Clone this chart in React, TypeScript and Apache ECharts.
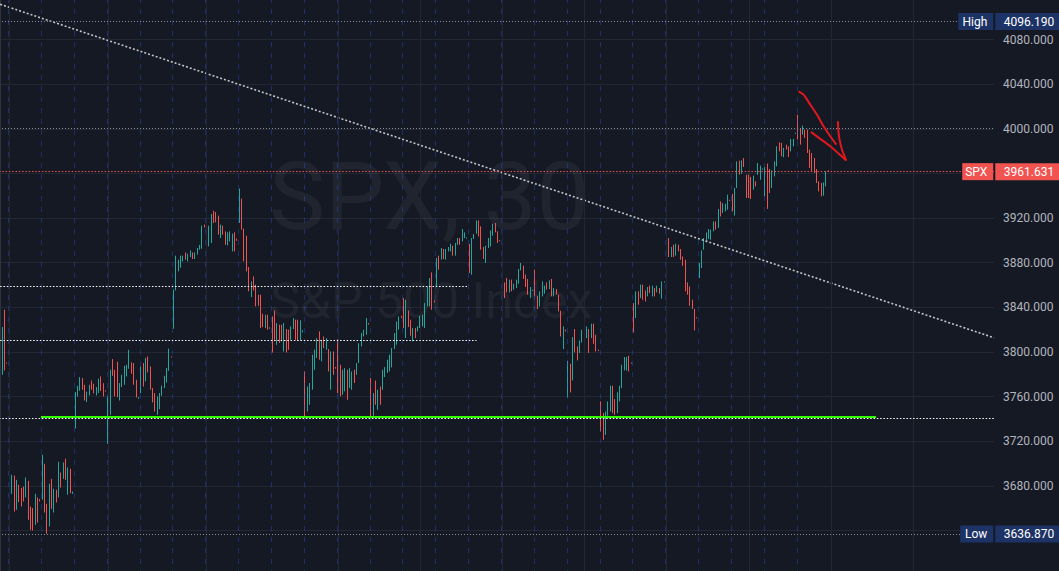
import React, { useEffect, useRef } from "react";
import * as echarts from "echarts";

// ---- candle data (30-min bars), opens and closes ----
const opens: number[] = [
  3722.7, 3779.5, 3837.8, 3790.5,
  3711.4, 3672.8, 3689.2, 3658.4, 3680.9, 3677.9, 3679.3, 3669.5, 3684.4, 3661.4, 3660.0, 3645.0, 3669.5, 3668.0,
  3667.4, 3699.7, 3663.8, 3643.5, 3686.2, 3656.0, 3676.4, 3669.5, 3691.9, 3686.2, 3704.2, 3671.9, 3695.2, 3672.8,
  3731.4, 3760.1, 3765.2, 3776.6, 3770.6, 3755.0, 3761.0, 3774.4, 3771.5, 3761.0, 3763.1, 3778.0, 3772.0, 3765.5,
  3717.6, 3743.6, 3793.6, 3784.0, 3791.2, 3756.5, 3768.5, 3770.6, 3778.0, 3784.9, 3790.6, 3790.0, 3775.0, 3758.0,
  3763.1, 3790.0, 3773.5, 3795.9, 3787.0, 3767.6, 3763.1, 3743.6, 3748.7, 3760.7, 3767.6, 3772.6, 3783.1, 3796.0,
  3820.8, 3855.1, 3872.2, 3875.5, 3881.2, 3889.2, 3881.2, 3885.1, 3889.2, 3883.3, 3887.2, 3891.6, 3892.5, 3914.1,
  3926.0, 3894.6, 3897.7, 3926.6, 3925.5, 3922.2, 3902.1, 3913.2, 3908.1, 3895.5, 3899.1, 3890.1, 3907.2, 3901.5,
  3915.6, 3937.4, 3910.5, 3904.2, 3876.1, 3849.2, 3867.7, 3860.3, 3851.3, 3851.3, 3834.2, 3821.4, 3833.3, 3822.0,
  3831.8, 3837.2, 3806.4, 3824.4, 3824.4, 3800.4, 3820.5, 3819.9, 3810.9, 3820.5, 3828.9, 3828.9, 3810.3, 3817.5,
  3782.5, 3746.6, 3752.6, 3766.1, 3784.0, 3794.5, 3818.4, 3791.5, 3813.9, 3802.0, 3802.6, 3766.1, 3800.4, 3786.4,
  3811.5, 3788.5, 3761.6, 3764.6, 3784.0, 3767.6, 3766.1, 3784.0, 3779.5, 3790.0, 3804.9, 3813.9, 3815.4, 3825.9,
  3776.6, 3742.8, 3774.4, 3748.1, 3769.0, 3766.1, 3777.5, 3781.1, 3782.5, 3786.1, 3802.6, 3806.4, 3819.9, 3832.4,
  3848.3, 3812.4, 3837.2, 3828.9, 3809.4, 3821.4, 3818.4, 3821.4, 3822.9, 3821.4, 3840.8, 3840.8, 3871.3, 3846.2,
  3858.7, 3886.3, 3882.7, 3892.3, 3882.7, 3890.1, 3890.1, 3895.2, 3886.3, 3896.1, 3902.1, 3899.1, 3902.1, 3901.6,
  3896.8, 3869.3, 3901.2, 3906.0, 3917.9, 3912.6, 3894.1, 3879.7, 3893.2, 3894.6, 3904.2, 3915.6, 3908.1, 3900.2,
  3879.7, 3862.3, 3866.3, 3853.4, 3864.8, 3855.8, 3857.3, 3861.1, 3873.1, 3877.3, 3869.3, 3865.4, 3848.3, 3854.6,
  3873.7, 3850.4, 3840.8, 3849.8, 3852.2, 3862.3, 3856.4, 3865.4, 3849.8, 3856.4, 3851.3, 3837.0, 3802.6, 3819.9,
  3759.2, 3789.4, 3774.4, 3820.5, 3804.9, 3799.0, 3808.5, 3829.5, 3812.4, 3820.5, 3812.4, 3825.3, 3815.4, 3801.9,
  3755.6, 3745.2, 3725.7, 3742.8, 3746.6, 3769.7, 3757.7, 3745.2, 3755.6, 3767.6, 3783.4, 3783.4, 3796.6, 3790.5,
  3843.8, 3830.4, 3854.3, 3848.3, 3860.3, 3855.1, 3849.8, 3859.4, 3849.8, 3857.3, 3853.4, 3857.3, 3847.7, 3862.2,
  3888.7, 3902.1, 3885.1, 3896.1, 3886.3, 3896.1, 3892.3, 3885.6, 3882.7, 3862.3, 3858.7, 3846.8, 3838.5, 3831.0,
  3866.3, 3875.2, 3891.6, 3898.2, 3901.2, 3900.6, 3908.1, 3917.0, 3911.1, 3935.0, 3924.6, 3926.0, 3927.5, 3936.4,
  3941.6, 3922.2, 3947.0, 3971.5, 3959.8, 3973.9, 3958.9, 3958.9, 3956.9, 3945.5, 3952.9, 3958.9, 3954.4, 3963.5,
  3939.5, 3968.8, 3964.0, 3947.0, 3957.4, 3966.4, 3987.9, 3987.4, 3974.5, 3985.8, 3984.3, 3979.8, 3984.3, 3995.5,
  4012.7, 4000.8, 3994.8, 3999.3, 3999.3, 3981.4, 3978.4, 3973.9, 3964.0, 3952.9, 3951.5, 3940.1, 3948.4, 3962.8,
];

const closes: number[] = [
  3825.3, 3822.3, 3783.4, 3789.5,
  3680.2, 3689.8, 3656.9, 3685.3, 3665.3, 3661.4, 3665.9, 3687.4, 3649.5, 3640.5, 3639.9, 3672.8, 3647.0, 3666.0,
  3707.8, 3656.0, 3636.9, 3681.8, 3659.3, 3677.3, 3665.0, 3701.5, 3678.4, 3700.9, 3685.3, 3696.4, 3673.4, 3674.9,
  3764.0, 3769.6, 3777.5, 3766.1, 3756.5, 3764.3, 3770.6, 3766.1, 3762.8, 3768.5, 3775.9, 3765.0, 3760.0, 3764.5,
  3760.1, 3784.0, 3778.6, 3760.1, 3759.5, 3772.1, 3779.5, 3787.6, 3788.5, 3801.9, 3780.4, 3770.6, 3759.2, 3759.5,
  3787.0, 3769.0, 3794.5, 3781.6, 3766.1, 3754.7, 3746.6, 3760.1, 3763.1, 3769.7, 3778.6, 3785.5, 3802.9, 3795.0,
  3855.8, 3886.3, 3882.7, 3886.3, 3886.3, 3882.7, 3888.1, 3891.0, 3883.3, 3889.2, 3893.2, 3895.9, 3913.2, 3911.6,
  3891.0, 3913.2, 3923.7, 3915.6, 3916.2, 3905.1, 3914.1, 3905.1, 3896.1, 3907.2, 3908.1, 3906.0, 3890.1, 3899.7,
  3946.4, 3909.6, 3881.2, 3872.2, 3854.3, 3863.2, 3855.1, 3840.8, 3841.4, 3821.4, 3822.3, 3833.3, 3819.9, 3820.8,
  3799.5, 3810.9, 3825.9, 3808.0, 3809.4, 3825.9, 3799.5, 3801.9, 3822.9, 3830.4, 3810.9, 3810.3, 3828.3, 3819.3,
  3740.7, 3769.0, 3772.1, 3797.5, 3802.0, 3812.4, 3793.0, 3810.9, 3803.5, 3812.4, 3782.5, 3800.4, 3779.5, 3785.0,
  3763.1, 3760.1, 3784.0, 3785.5, 3757.1, 3785.5, 3782.5, 3772.1, 3790.0, 3807.9, 3816.9, 3819.9, 3830.4, 3824.6,
  3742.2, 3763.1, 3752.6, 3766.1, 3752.6, 3784.0, 3786.4, 3793.0, 3797.5, 3803.5, 3816.9, 3827.3, 3831.8, 3830.6,
  3821.4, 3846.8, 3822.3, 3814.5, 3821.4, 3812.4, 3822.9, 3832.4, 3833.3, 3843.8, 3858.7, 3866.3, 3837.8, 3844.4,
  3884.2, 3873.7, 3893.2, 3883.3, 3892.3, 3894.1, 3897.0, 3886.3, 3897.7, 3902.1, 3896.1, 3910.2, 3907.2, 3902.6,
  3870.8, 3902.1, 3905.7, 3917.9, 3903.6, 3891.6, 3883.3, 3895.2, 3902.1, 3908.9, 3915.0, 3907.2, 3897.7, 3899.2,
  3849.2, 3848.3, 3853.4, 3864.8, 3854.3, 3861.1, 3864.8, 3874.4, 3879.7, 3865.4, 3858.2, 3851.3, 3858.2, 3855.6,
  3849.8, 3838.5, 3854.3, 3863.2, 3859.4, 3855.8, 3864.1, 3849.8, 3857.3, 3851.3, 3836.3, 3813.9, 3822.9, 3818.4,
  3792.1, 3763.7, 3813.3, 3799.5, 3792.4, 3810.3, 3819.9, 3814.5, 3822.9, 3799.0, 3825.3, 3807.3, 3800.4, 3800.8,
  3728.7, 3721.2, 3746.6, 3755.6, 3769.7, 3745.2, 3743.6, 3763.7, 3769.7, 3788.5, 3795.4, 3795.4, 3782.5, 3789.5,
  3817.5, 3854.3, 3842.3, 3860.3, 3846.8, 3845.3, 3858.2, 3852.8, 3859.4, 3849.8, 3859.4, 3852.2, 3863.2, 3863.2,
  3903.0, 3885.1, 3894.1, 3885.1, 3897.0, 3890.1, 3882.7, 3877.3, 3854.3, 3851.3, 3841.4, 3838.5, 3819.3, 3830.0,
  3879.7, 3891.0, 3902.1, 3907.2, 3910.2, 3909.6, 3917.0, 3909.6, 3928.2, 3921.5, 3933.5, 3932.9, 3941.0, 3935.4,
  3926.0, 3947.0, 3970.9, 3958.9, 3971.8, 3965.8, 3938.0, 3938.0, 3937.1, 3958.0, 3948.4, 3969.4, 3967.0, 3964.5,
  3965.8, 3928.2, 3942.5, 3962.8, 3970.9, 3984.3, 3979.8, 3975.4, 3982.9, 3981.4, 3974.8, 3991.0, 3991.0, 3996.5,
  3990.3, 3985.8, 4002.9, 3991.9, 3978.4, 3964.9, 3961.9, 3960.4, 3951.5, 3943.9, 3939.5, 3952.0, 3961.9, 3961.631,
];

// total bar slots on the time axis (bars + empty future space)
const TOTAL_SLOTS = 424;

// first bar of each trading session (session-break lines)
const sessionStarts: number[] = [4, 18, 32, 46, 60, 74, 88, 102, 116, 130, 144, 158, 172, 186, 200, 214, 228, 242, 256, 270, 284, 298, 312, 326, 340];
// bars where the time-scale grid lines fall
const timeGridBars: number[] = [4, 46, 88, 144, 179, 214, 249, 284, 319, 354, 389];

// price levels
const HIGH = 4096.19;
const LOW = 3636.87;
const LAST = 3961.631;
const level4000 = 4000.2;
const whiteUpper = 3859.1;
const whiteUpperEnd = 199;
const whiteLower = 3810.7;
const whiteLowerEnd = 203;
const greenSupport = 3742.2;
const greenStart = 17.4;
const greenEnd = 373.2;
const whiteSupport = 3740.7;

// descending trend line: [bar index, price]
const trendLine: number[][] = [
  [0, 4111.7],
  [423.5, 3812.7],
];

const BG = "#151924";
const GRID = "#232733";
const UP = "#26a69a";
const DOWN = "#ef5350";
const FONT = "Roboto, 'Noto Sans', sans-serif";

// the chart canvas is slightly larger than the page so that the price scale lands where it should
const OFF_X = 1.25;
const OFF_Y = 4.57;
const CW = 1059 + OFF_X;
const CH = 571 + OFF_Y + 4.1;

export default function App() {
  const ref = useRef<HTMLDivElement>(null);

  useEffect(() => {
    if (!ref.current) return;
    const chart = echarts.init(ref.current, null, { renderer: "svg" });
    const cats = Array.from({ length: TOTAL_SLOTS }, (_, i) => String(i));
    const candles = opens.map((o, i) => {
      const c = closes[i];
      return [o, c, Math.min(o, c), Math.max(o, c)];
    });

    const dotted = (color: string, width = 1, dash = [1, 2]) => ({ color, width, type: dash });
    const tagged = [HIGH, LOW, LAST];

    const option: any = {
      animation: false,
      backgroundColor: BG,
      textStyle: { fontFamily: FONT },
      grid: { left: 0, right: 65, top: 0, bottom: 0, containLabel: false },
      xAxis: [
        { type: "category", data: cats, show: false, boundaryGap: true },
        { type: "value", min: -0.5, max: TOTAL_SLOTS - 0.5, show: false },
      ],
      yAxis: {
        type: "value",
        position: "right",
        min: 3600,
        max: 4120,
        interval: 40,
        axisLine: { show: true, lineStyle: { color: "#2f333e" } },
        axisTick: { show: false },
        axisLabel: {
          color: "#b2b5be",
          fontSize: 12,
          fontFamily: FONT,
          margin: 9,
          showMinLabel: false,
          showMaxLabel: false,
          formatter: (v: number) => (tagged.some((t) => Math.abs(t - v) < 9) ? "" : v.toFixed(3)),
        },
        splitLine: { show: true, lineStyle: { color: GRID, width: 1 } },
      },
      series: [
        {
          type: "line",
          xAxisIndex: 1,
          data: [[-10, 3000]],
          showSymbol: false,
          silent: true,
          z: 1,
          lineStyle: { opacity: 0 },
          markLine: {
            silent: true,
            symbol: ["none", "none"],
            label: { show: false },
            animation: false,
            data: [
              ...timeGridBars.map((b) => ({ xAxis: b, lineStyle: { color: GRID, type: "solid", width: 1 } })),
              ...sessionStarts.map((s) => ({
                xAxis: s - 0.5,
                lineStyle: { color: "rgba(41,98,255,0.32)", type: [5, 6], width: 1 },
              })),
            ],
          },
        },
        {
          type: "candlestick",
          xAxisIndex: 0,
          data: candles,
          barWidth: 0.3,
          z: 2,
          itemStyle: {
            color: UP,
            color0: DOWN,
            borderColor: UP,
            borderColor0: DOWN,
            borderWidth: 1,
          },
        },
        {
          type: "line",
          xAxisIndex: 1,
          data: trendLine,
          showSymbol: false,
          symbol: "none",
          silent: true,
          z: 4,
          lineStyle: { color: "#c3c5cc", width: 1.6, type: [2, 2] },
          markLine: {
            silent: true,
            symbol: ["none", "none"],
            label: { show: false },
            animation: false,
            data: [
              { yAxis: HIGH, lineStyle: dotted("#8b8e98") },
              { yAxis: level4000, lineStyle: dotted("#8b8e98") },
              { yAxis: LAST, lineStyle: dotted(DOWN, 1, [1.5, 1.8]) },
              [
                { coord: [0, whiteUpper], lineStyle: dotted("#ffffff", 1.2, [1.5, 1.8]) },
                { coord: [whiteUpperEnd, whiteUpper] },
              ],
              [
                { coord: [0, whiteLower], lineStyle: dotted("#ffffff", 1.2, [1.5, 1.8]) },
                { coord: [whiteLowerEnd, whiteLower] },
              ],
              { yAxis: whiteSupport, lineStyle: dotted("#ffffff", 1.2, [1.5, 1.8]) },
              [
                { coord: [greenStart, greenSupport], lineStyle: { color: "#33ff00", width: 2, type: "solid" } },
                { coord: [greenEnd, greenSupport] },
              ],
              { yAxis: LOW, lineStyle: dotted("#8b8e98") },
            ],
          },
        },
      ],
    };

    chart.setOption(option);

    const yOf = (v: number) => chart.convertToPixel({ yAxisIndex: 0 }, v) as number;
    const yH = yOf(HIGH);
    const yL = yOf(LOW);
    const yS = yOf(LAST);
    // page coordinates -> chart coordinates
    const X = (x: number) => x + OFF_X;
    const Y = (y: number) => y + OFF_Y;
    const pts = (arr: number[][]) => arr.map(([x, y]) => [X(x), Y(y)]);

    const tag = (label: string, value: string, y: number, boxLeft: number, color: string) => [
      { type: "rect", z: 50, shape: { x: X(boxLeft), y: y - 8.5, width: 993 - boxLeft, height: 17 }, style: { fill: color } },
      { type: "rect", z: 50, shape: { x: X(995), y: y - 8.5, width: 64, height: 17 }, style: { fill: color } },
      {
        type: "text",
        z: 51,
        style: { text: label, x: X(987), y, align: "right", verticalAlign: "middle", fill: "#ffffff", fontSize: 12, fontFamily: FONT },
      },
      {
        type: "text",
        z: 51,
        style: { text: value, x: X(1003.5), y, align: "left", verticalAlign: "middle", fill: "#ffffff", fontSize: 12, fontFamily: FONT },
      },
    ];

    const red = "#e3171d";
    chart.setOption({
      graphic: [
        {
          type: "text",
          z: 1,
          silent: true,
          style: { text: "SPX, 30", x: X(429), y: Y(197), align: "center", verticalAlign: "middle", fill: "rgba(255,255,255,0.05)", fontSize: 94, fontFamily: FONT },
        },
        {
          type: "text",
          z: 1,
          silent: true,
          style: { text: "S&P 500 Index", x: X(431), y: Y(301), align: "center", verticalAlign: "middle", fill: "rgba(255,255,255,0.05)", fontSize: 50, fontFamily: FONT },
        },
        {
          type: "polyline",
          z: 30,
          shape: { points: pts([[798.3, 91.7], [803.3, 95], [810, 105], [816.7, 115], [823.3, 126.7], [830, 136.7], [836, 145]]), smooth: 0.3 },
          style: { stroke: red, lineWidth: 2, fill: null },
        },
        {
          type: "polyline",
          z: 30,
          shape: { points: pts([[810.7, 132.3], [820, 139.3], [830, 146.7], [838.3, 154], [846, 161]]), smooth: 0.3 },
          style: { stroke: red, lineWidth: 2, fill: null },
        },
        {
          type: "polyline",
          z: 30,
          shape: { points: pts([[837.7, 121.7], [838, 130], [839.3, 140], [841.7, 150], [846, 161]]), smooth: 0.3 },
          style: { stroke: red, lineWidth: 2, fill: null },
        },
        ...tag("High", HIGH.toFixed(3), yH, 958, "#1d3365"),
        ...tag("SPX", LAST.toFixed(3), yS, 962, "#f05350"),
        ...tag("Low", LOW.toFixed(3), yL, 960, "#1d3365"),
      ],
    });

    return () => chart.dispose();
  }, []);

  return (
    <div
      ref={ref}
      style={{ position: "fixed", left: -OFF_X, top: -OFF_Y, width: CW, height: CH, background: BG }}
    />
  );
}
